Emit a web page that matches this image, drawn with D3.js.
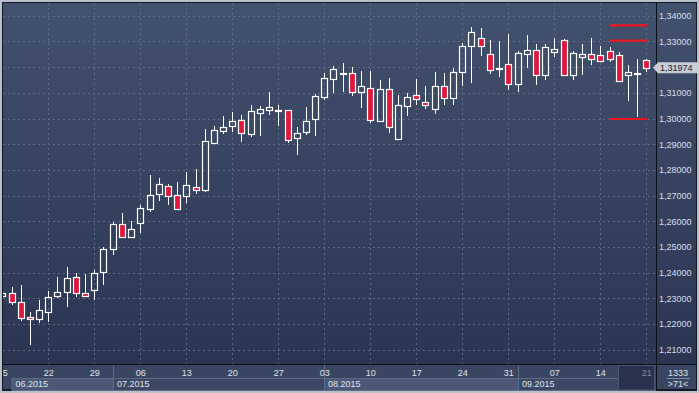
<!DOCTYPE html>
<html><head><meta charset="utf-8">
<script src="https://cdn.jsdelivr.net/npm/d3@7"></script>
<style>html,body{margin:0;padding:0;background:#b8c0cc;overflow:hidden}</style>
</head><body><svg id="c" width="699" height="393"></svg>
<script>
const dates = [
 "2015-06-15","2015-06-16","2015-06-17","2015-06-18","2015-06-19","2015-06-22","2015-06-23","2015-06-24","2015-06-25","2015-06-26",
 "2015-06-29","2015-06-30","2015-07-01","2015-07-02","2015-07-03","2015-07-06","2015-07-07","2015-07-08","2015-07-09","2015-07-10",
 "2015-07-13","2015-07-14","2015-07-15","2015-07-16","2015-07-17","2015-07-20","2015-07-21","2015-07-22","2015-07-23","2015-07-24",
 "2015-07-27","2015-07-28","2015-07-29","2015-07-30","2015-07-31","2015-08-03","2015-08-04","2015-08-05","2015-08-06","2015-08-07",
 "2015-08-10","2015-08-11","2015-08-12","2015-08-13","2015-08-14","2015-08-17","2015-08-18","2015-08-19","2015-08-20","2015-08-21",
 "2015-08-24","2015-08-25","2015-08-26","2015-08-27","2015-08-28","2015-08-31","2015-09-01","2015-09-02","2015-09-03","2015-09-04",
 "2015-09-07","2015-09-08","2015-09-09","2015-09-10","2015-09-11","2015-09-14","2015-09-15","2015-09-16","2015-09-17","2015-09-18",
 "2015-09-21"];
const open = [1.2310,1.2320,1.2286,1.2228,1.2221,1.2248,1.2308,1.2326,1.2382,1.2320,
 1.2332,1.2402,1.2491,1.2588,1.2538,1.2592,1.2649,1.2705,1.2736,1.2701,
 1.2697,1.2732,1.2722,1.2906,1.2951,1.2972,1.2995,1.2941,1.3023,1.3034,
 1.3034,1.3032,1.2923,1.2946,1.3000,1.3085,1.3153,1.3176,1.3176,1.3104,
 1.3118,1.2991,1.3114,1.2919,1.3050,1.3090,1.3063,1.3038,1.3125,1.3081,
 1.3182,1.3283,1.3312,1.3250,1.3195,1.3211,1.3133,1.3252,1.3265,1.3171,
 1.3258,1.3305,1.3170,1.3241,1.3250,1.3246,1.3262,1.3246,1.3168,1.3177,
 1.3226];
const high = [1.2322,1.2346,1.2353,1.2247,1.2294,1.2329,1.2384,1.2423,1.2399,1.2395,
 1.2411,1.2499,1.2597,1.2632,1.2601,1.2663,1.2780,1.2769,1.2745,1.2753,
 1.2793,1.2804,1.2958,1.2971,1.3010,1.3025,1.3013,1.3053,1.3049,1.3103,
 1.3053,1.3033,1.2967,1.3045,1.3095,1.3176,1.3205,1.3216,1.3199,1.3185,
 1.3185,1.3150,1.3156,1.3091,1.3099,1.3154,1.3127,1.3181,1.3177,1.3198,
 1.3295,1.3357,1.3352,1.3305,1.3302,1.3329,1.3263,1.3325,1.3290,1.3290,
 1.3313,1.3309,1.3263,1.3290,1.3313,1.3282,1.3277,1.3259,1.3208,1.3233,
 1.3233];
const low = [1.2308,1.2278,1.2216,1.2124,1.2209,1.2213,1.2306,1.2272,1.2309,1.2308,
 1.2298,1.2357,1.2471,1.2537,1.2537,1.2560,1.2641,1.2683,1.2666,1.2648,
 1.2676,1.2711,1.2719,1.2903,1.2945,1.2951,1.2914,1.2932,1.2936,1.3016,
 1.2976,1.2910,1.2861,1.2941,1.2936,1.3076,1.3104,1.3108,1.3091,1.3046,
 1.2988,1.2990,1.2949,1.2919,1.3014,1.3056,1.3039,1.3023,1.3058,1.3058,
 1.3130,1.3142,1.3248,1.3178,1.3167,1.3116,1.3108,1.3199,1.3135,1.3155,
 1.3244,1.3170,1.3155,1.3173,1.3213,1.3222,1.3225,1.3147,1.3073,1.3011,
 1.3186];
const close = [1.2320,1.2287,1.2225,1.2219,1.2254,1.2304,1.2324,1.2378,1.2320,1.2309,
 1.2400,1.2491,1.2588,1.2538,1.2570,1.2652,1.2701,1.2744,1.2698,1.2649,
 1.2740,1.2723,1.2913,1.2955,1.2966,1.2989,1.2945,1.3028,1.3036,1.3045,
 1.3035,1.2916,1.2944,1.2989,1.3086,1.3156,1.3191,1.3177,1.3104,1.3125,
 1.2995,1.3114,1.2968,1.3051,1.3083,1.3075,1.3051,1.3125,1.3081,1.3181,
 1.3282,1.3335,1.3283,1.3190,1.3196,1.3133,1.3254,1.3265,1.3171,1.3277,
 1.3270,1.3170,1.3254,1.3250,1.3230,1.3223,1.3233,1.3147,1.3180,1.3178,
 1.31974];
const yTicks = [1.21,1.22,1.23,1.24,1.25,1.26,1.27,1.28,1.29,1.30,1.31,1.32,1.33,1.34];
const levels = [1.3362, 1.3303, 1.2998];
const lastPrice = 1.31974;
const barTotal = "1333";
const barVisible = ">71<";

const svg = d3.select("#c");
const W = 699, H = 393;
const L = 3, R = 656, T = 3, B = 364;
const FONT = "Liberation Sans, Arial, sans-serif";

const defs = svg.append("defs");
const grad = defs.append("linearGradient").attr("id","bg").attr("gradientUnits","userSpaceOnUse")
  .attr("x1",0).attr("y1",3).attr("x2",0).attr("y2",364);
grad.append("stop").attr("offset","0").attr("stop-color","#42516d");
grad.append("stop").attr("offset","1").attr("stop-color","#2a3552");
defs.append("clipPath").attr("id","plot").append("rect").attr("x",L).attr("y",T).attr("width",R-L).attr("height",B-T);
defs.append("clipPath").attr("id","xax").append("rect").attr("x",L).attr("y",B).attr("width",R-L).attr("height",H-B);

// frame
svg.append("rect").attr("x",0).attr("y",0).attr("width",W).attr("height",H).attr("fill","#b8c0cc");
svg.append("rect").attr("x",2).attr("y",2).attr("width",W-4).attr("height",H-4).attr("fill","#141a25");
svg.append("rect").attr("x",3).attr("y",3).attr("width",W-6).attr("height",B-3).attr("fill","url(#bg)");
svg.append("rect").attr("x",3).attr("y",B).attr("width",W-6).attr("height",H-3-B-1).attr("fill","#3a4661");

const x = d3.scaleLinear().domain([0, dates.length-1]).range([2.3, 646.3]);
const y = d3.scaleLinear().domain([1.21, 1.34]).range([349.8, 15.7]);
const px = i => Math.round(x(i));
const py = v => Math.round(y(v));

const mondays = dates.map((d,i)=>[d,i]).filter(([d])=> new Date(d+"T12:00:00Z").getUTCDay()===1).map(([d,i])=>i);

// grid
const grid = svg.append("g").attr("clip-path","url(#plot)");
grid.selectAll("line.h").data(yTicks).join("line")
  .attr("x1",L).attr("x2",R).attr("y1",d=>py(d)+0.5).attr("y2",d=>py(d)+0.5)
  .attr("stroke","#5c6a87").attr("stroke-width",1).attr("stroke-dasharray","2,3");
grid.selectAll("line.v").data(mondays).join("line")
  .attr("x1",i=>px(i)+0.5).attr("x2",i=>px(i)+0.5).attr("y1",T).attr("y2",B)
  .attr("stroke","#5c6a87").attr("stroke-width",1).attr("stroke-dasharray","2,3");

// candles
const idx = d3.range(dates.length);
const cg = svg.append("g").attr("clip-path","url(#plot)");
const up = i => close[i] >= open[i];
cg.selectAll("line.wt").data(idx).join("line")
  .attr("x1",i=>px(i)+0.5).attr("x2",i=>px(i)+0.5)
  .attr("y1",i=>py(high[i])).attr("y2",i=>py(Math.max(open[i],close[i]))+0.5)
  .attr("stroke","#ffffff").attr("stroke-width",1);
cg.selectAll("line.wb").data(idx).join("line")
  .attr("x1",i=>px(i)+0.5).attr("x2",i=>px(i)+0.5)
  .attr("y1",i=>py(Math.min(open[i],close[i]))+0.5).attr("y2",i=>py(low[i])+1)
  .attr("stroke","#ffffff").attr("stroke-width",1);
cg.selectAll("rect.body").data(idx).join("rect")
  .attr("x",i=>px(i)-2.5).attr("width",6)
  .attr("y",i=>py(Math.max(open[i],close[i]))+0.5)
  .attr("height",i=>Math.max(1, py(Math.min(open[i],close[i])) - py(Math.max(open[i],close[i]))))
  .attr("fill",i=> up(i) ? "none" : "#dd1a3c")
  .attr("stroke","#ffffff").attr("stroke-width",1.2);

// level lines
cg.selectAll("line.lvl").data(levels).join("line")
  .attr("x1",610).attr("x2",647).attr("y1",d=>y(d)).attr("y2",d=>y(d))
  .attr("stroke","#ee1620").attr("stroke-width",2.2);

// right axis
svg.append("line").attr("x1",R+0.5).attr("x2",R+0.5).attr("y1",T).attr("y2",H-2).attr("stroke","#0c1018");
const ya = svg.append("g").attr("transform",`translate(${R},0)`)
  .call(d3.axisRight(y).tickValues(yTicks).tickSize(0).tickPadding(3)
    .tickFormat(d => d3.format(".5f")(d).replace(".", ",")));
ya.select(".domain").remove();
ya.selectAll("text").attr("fill","#d9dee8").attr("font-family",FONT).attr("font-size","9px");

// price label
const ly = y(lastPrice);
svg.append("path")
  .attr("d",`M653,${ly} L658,${ly-5.5} L699,${ly-5.5} L699,${ly+5.5} L658,${ly+5.5} Z`)
  .attr("fill","#c9cdd5");
svg.append("text").attr("x",660).attr("y",ly).attr("dy","0.35em")
  .attr("font-family",FONT).attr("font-size","9px").attr("fill","#1a2236")
  .text(d3.format(".5f")(lastPrice).replace(".", ","));

// bottom axis: month bands
const monthStarts = idx.filter(i => i===0 || dates[i].slice(5,7)!==dates[i-1].slice(5,7));
const monthBands = monthStarts.map((s,k)=>({
  s, x0: Math.max(px(s), 11.5), x1: k<monthStarts.length-1 ? px(monthStarts[k+1]) : R,
  label: dates[s].slice(5,7)+"."+dates[s].slice(0,4), k}));
const mb = svg.append("g").attr("clip-path","url(#xax)");
mb.selectAll("rect").data(monthBands).join("rect")
  .attr("x",d=>d.x0+0.5).attr("y",378.5).attr("width",d=>d.x1-d.x0).attr("height",12)
  .attr("fill",d=> d.k%2===0 ? "#4b5876" : "#3c4864")
  .attr("stroke","#5d6a86").attr("stroke-width",1);
mb.selectAll("line.div").data(monthBands.slice(1)).join("line")
  .attr("x1",d=>d.x0+0.5).attr("x2",d=>d.x0+0.5).attr("y1",B).attr("y2",391)
  .attr("stroke","#5d6a86");
mb.selectAll("text").data(monthBands).join("text")
  .attr("x",d=>d.x0+4).attr("y",384).attr("dy","0.35em")
  .attr("font-family",FONT).attr("font-size","9px").attr("fill","#dde2ea")
  .text(d=>d.label);
// current week box
const lastMon = mondays[mondays.length-1];
mb.append("rect").attr("x",px(lastMon)-27.5).attr("y",365.5).attr("width",R-(px(lastMon)-27)-1).attr("height",24.5)
  .attr("fill","#28324c").attr("stroke","#4a5672");

svg.append("line").attr("x1",3).attr("x2",W-3).attr("y1",B+0.5).attr("y2",B+0.5).attr("stroke","#0c1018");

// day labels (clip group outside, translated axis inside)
const xaClip = svg.append("g").attr("clip-path","url(#xax)");
const xa = xaClip.append("g").attr("transform",`translate(0,${B})`)
  .call(d3.axisBottom(x).tickValues(mondays).tickSize(0).tickPadding(5.5)
    .tickFormat(i => dates[i].slice(8,10)));
xa.select(".domain").remove();
xa.selectAll("text").attr("font-family",FONT).attr("font-size","9px")
  .attr("fill",i => i===lastMon ? "#7f8aa0" : "#dde2ea");

// bottom-right box
svg.append("text").attr("x",678).attr("y",372.5).attr("dy","0.35em").attr("text-anchor","middle")
  .attr("font-family",FONT).attr("font-size","9px").attr("fill","#dde2ea").text(barTotal);
svg.append("line").attr("x1",667).attr("x2",690).attr("y1",378.5).attr("y2",378.5).attr("stroke","#7f8aa0");
svg.append("text").attr("x",678).attr("y",384).attr("dy","0.35em").attr("text-anchor","middle")
  .attr("font-family",FONT).attr("font-size","9px").attr("fill","#dde2ea").text(barVisible);
</script></body></html>
